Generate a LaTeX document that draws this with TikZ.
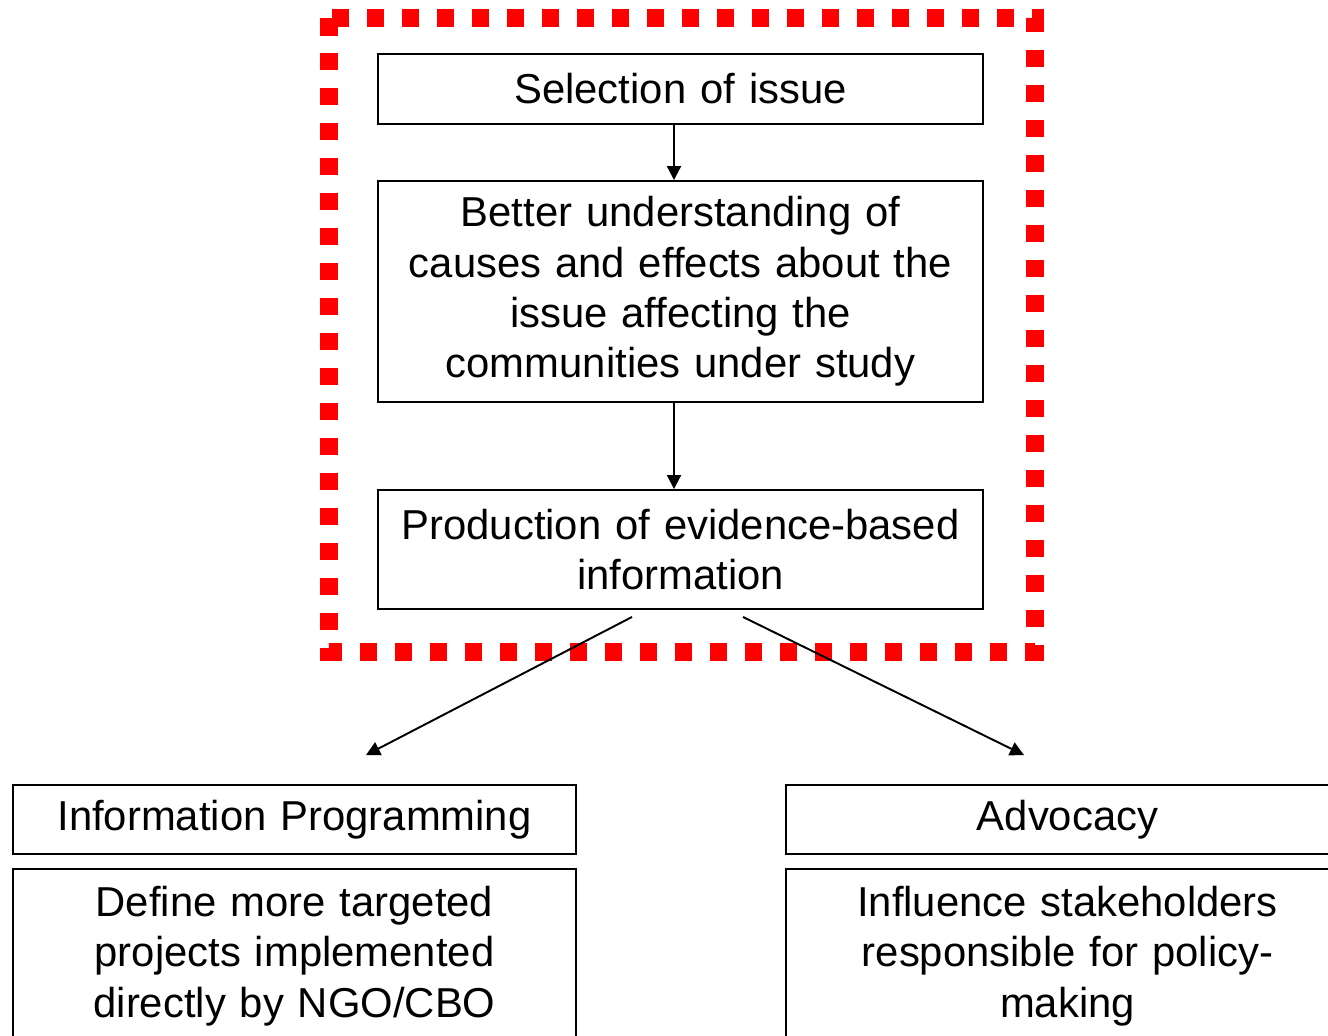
\documentclass[tikz,border=0pt]{standalone}
\usepackage{fontspec}
\setmainfont{Liberation Sans}
\usetikzlibrary{arrows.meta}
\begin{document}
\begin{tikzpicture}[
    x=0.02cm, y=-0.02cm,
    every node/.style={draw, line width=1.1pt, align=center, inner sep=0pt,
      font=\fontsize{23.8}{28.7}\selectfont},
    wide/.style={minimum width=12.1cm, text width=11.6cm},
    half/.style={minimum width=11.26cm, text width=10.9cm},
    link/.style={line width=1.1pt, -{Triangle[length=0.28cm,width=0.28cm]}},
  ]
  \useasboundingbox (0,0) rectangle (1328,1035);
  \clip (0,0) rectangle (1328,1035);
  % study frame
  \draw[red, line width=0.35cm, dash pattern=on 0.35cm off 0.35cm] (329,18) rectangle (1035,652);
  % study steps
  \node[wide, minimum height=1.4cm] (sel) at (680.5,89) {Selection of issue};
  \node[wide, minimum height=4.42cm] (under) at (680.5,291.5)
    {Better understanding of\\causes and effects about the\\issue affecting the\\communities under study};
  \node[wide, minimum height=2.38cm] (prod) at (680.5,549.5)
    {Production of evidence-based\\information};
  % uses of the evidence
  \node[half, minimum height=1.38cm] (info) at (294.5,819.5) {Information Programming};
  \node[half, minimum height=3.48cm] (define) at (294.5,956)
    {Define more targeted\\projects implemented\\directly by NGO/CBO};
  \node[half, minimum height=1.38cm] (adv) at (1067.5,819.5) {Advocacy};
  \node[half, minimum height=3.48cm] (sway) at (1067.5,956)
    {Influence stakeholders\\responsible for policy-\\making};
  % arrows
  \draw[link] ([xshift=-0.13cm]sel.south) -- ([xshift=-0.13cm]under.north);
  \draw[link] ([xshift=-0.13cm]under.south) -- ([xshift=-0.13cm]prod.north);
  \draw[link] ([shift={(-48.5,7)}]prod.south) -- ([shift={(71.5,-29)}]info.north);
  \draw[link] ([shift={(62.5,7)}]prod.south) -- ([shift={(-43.5,-29)}]adv.north);
\end{tikzpicture}
\end{document}
